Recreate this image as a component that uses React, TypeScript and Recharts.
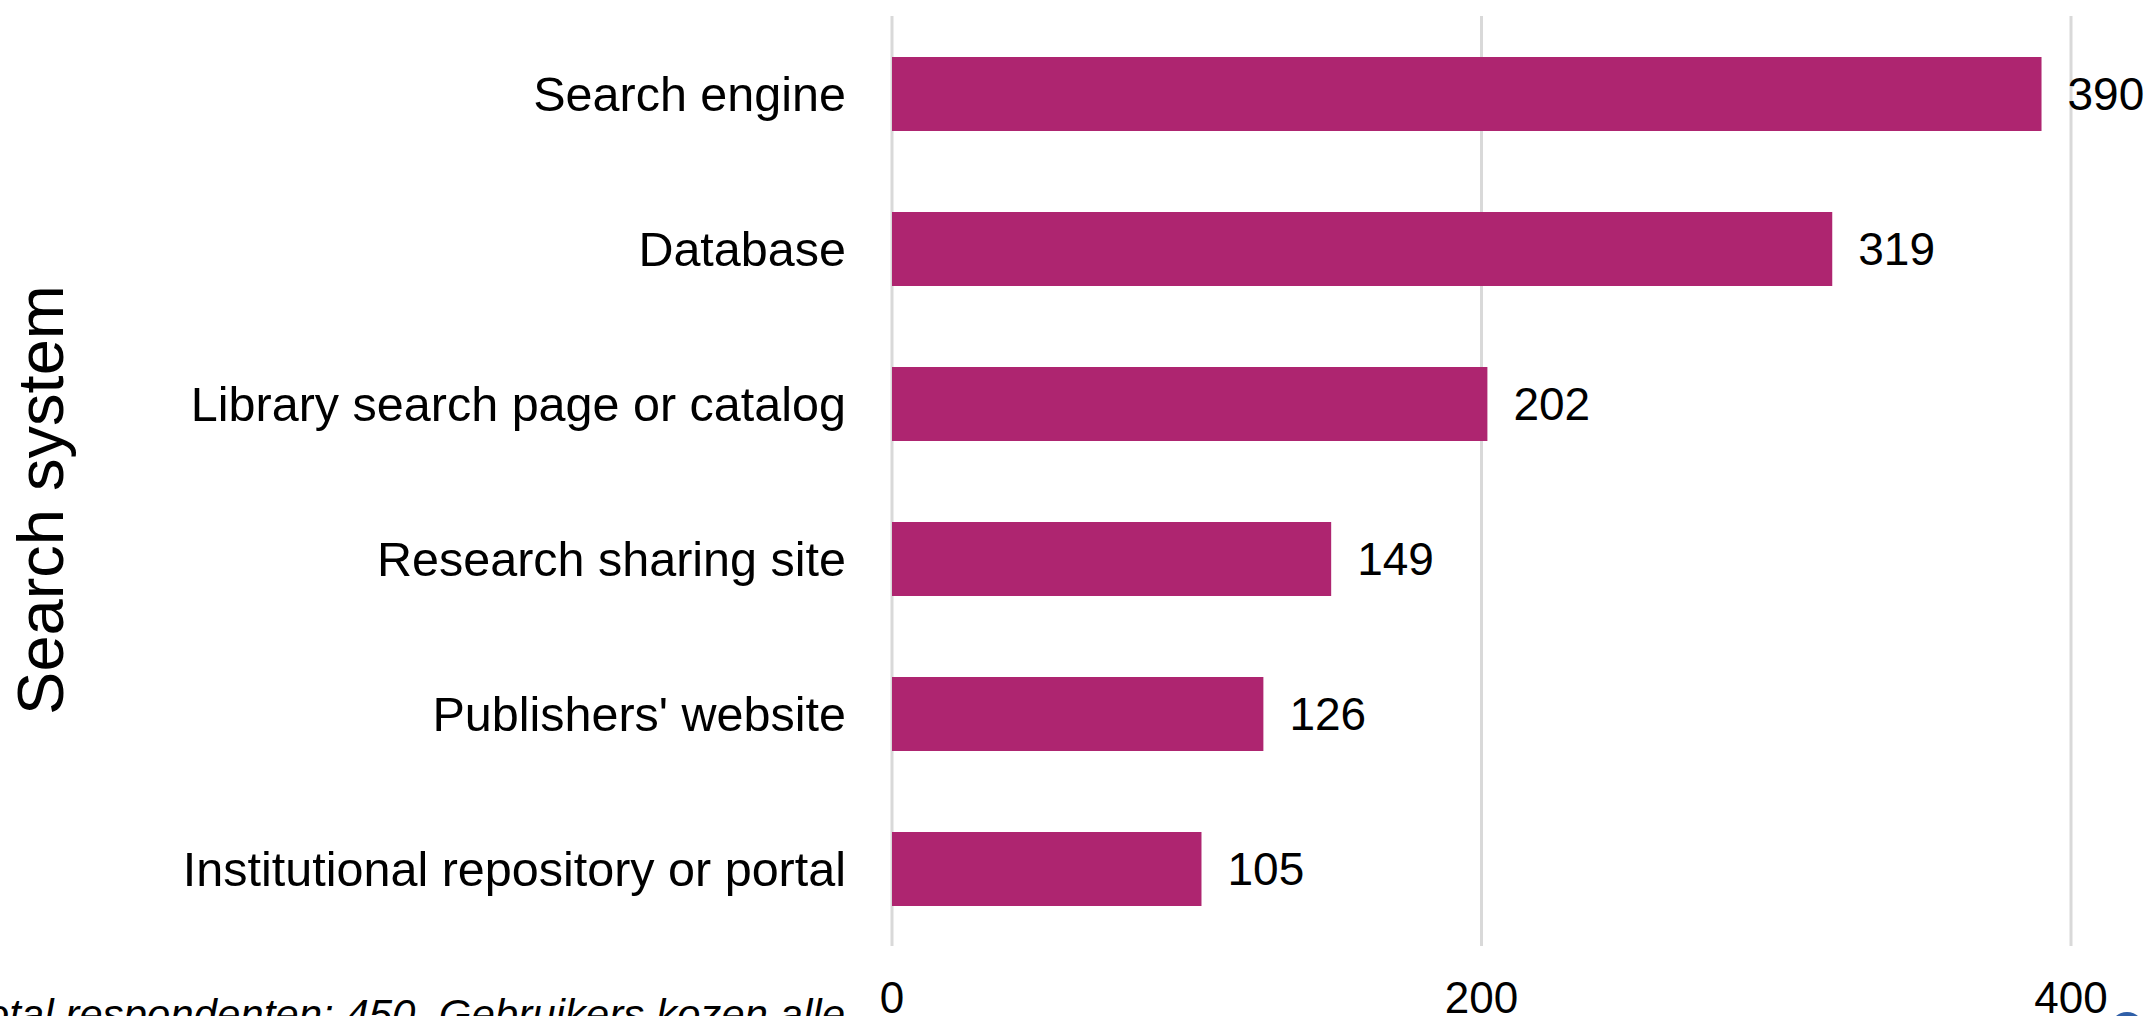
import React from 'react';
import { Bar, BarChart, CartesianGrid, LabelList, XAxis, YAxis } from 'recharts';

const categories = [
  'Search engine',
  'Database',
  'Library search page or catalog',
  'Research sharing site',
  "Publishers' website",
  'Institutional repository or portal',
];
const counts = [390, 319, 202, 149, 126, 105];
const xTicks = [0, 200, 400];

const data = categories.map((system, i) => ({ system, count: counts[i] }));

const FONT = '"Liberation Sans", Arial, sans-serif';

const AxisTitle = () => (
  <text
    x={63}
    y={500}
    transform="rotate(-90, 63, 500)"
    textAnchor="middle"
    fill="#000"
    fontSize={65}
    fontFamily={FONT}
  >
    Search system
  </text>
);

export default function App() {
  return (
    <div
      style={{
        position: 'absolute',
        left: 0,
        top: 0,
        width: 2150,
        height: 1016,
        overflow: 'hidden',
        background: '#fff',
        fontFamily: FONT,
      }}
    >
      <BarChart
        width={2150}
        height={1016}
        data={data}
        layout="vertical"
        margin={{ top: 16, right: 79, bottom: 0, left: 0 }}
      >
        <CartesianGrid stroke="#d9d9d9" strokeWidth={3} horizontal={false} />
        <XAxis
          type="number"
          domain={[0, 400]}
          ticks={xTicks}
          axisLine={false}
          tickLine={false}
          tickSize={0}
          tickMargin={36}
          height={70}
          tick={{ fill: '#000', fontSize: 44, fontFamily: FONT }}
        />
        <YAxis
          type="category"
          dataKey="system"
          width={892}
          axisLine={false}
          tickLine={false}
          tickSize={0}
          tickMargin={46}
          interval={0}
          tick={{ fill: '#000', fontSize: 48.5, fontFamily: FONT }}
          label={AxisTitle}
        />
        <Bar dataKey="count" fill="#ae2570" barSize={74} isAnimationActive={false}>
          <LabelList
            dataKey="count"
            position="right"
            offset={26}
            fill="#000"
            fontSize={46}
            fontFamily={FONT}
          />
        </Bar>
      </BarChart>
      <div
        style={{
          position: 'absolute',
          right: 2150 - 845,
          top: 994,
          fontSize: 42,
          lineHeight: '42px',
          fontStyle: 'italic',
          whiteSpace: 'nowrap',
          color: '#000',
        }}
      >
        Total respondenten: 450. Gebruikers kozen alle
      </div>
      <div
        style={{
          position: 'absolute',
          left: 2110,
          top: 1012,
          width: 34,
          height: 34,
          borderRadius: '50%',
          background: '#2f5fa8',
        }}
      />
    </div>
  );
}
